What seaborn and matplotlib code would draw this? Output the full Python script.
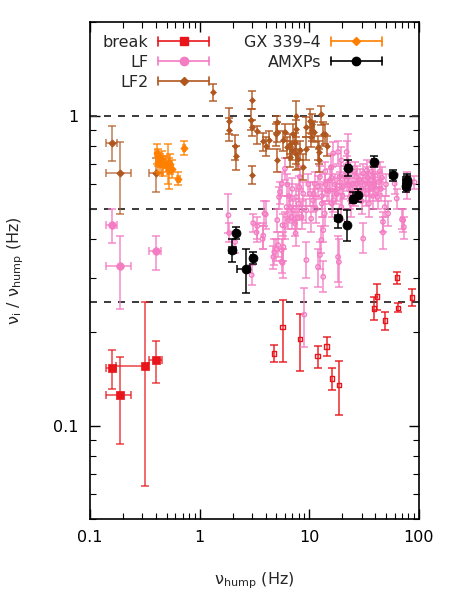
import numpy as np
import matplotlib
matplotlib.use("Agg")
import matplotlib.pyplot as plt
import seaborn as sns
from matplotlib.lines import Line2D
from matplotlib.legend_handler import HandlerBase
from matplotlib.ticker import LogLocator, FixedLocator, FixedFormatter, NullFormatter

# ---------------- data ----------------
# break: low-frequency (filled squares, with x errors)
brk_big_x = [0.158, 0.188, 0.317, 0.397]
brk_big_y = [0.153, 0.126, 0.156, 0.163]
brk_big_ylo = [0.131, 0.087, 0.064, 0.137]
brk_big_yhi = [0.175, 0.166, 0.25, 0.187]
brk_big_xlo = [0.139, 0.139, 0.174, 0.347]
brk_big_xhi = [0.172, 0.236, 0.34, 0.453]
# break: high-frequency (open squares)
brk_x = [4.79, 5.70, 8.26, 11.9, 14.4, 16.2, 18.6, 38.8, 41.6, 49.2, 63.3, 64.6, 86.1]
brk_y = [0.171, 0.208, 0.190, 0.168, 0.180, 0.142, 0.135, 0.239, 0.261, 0.218, 0.300, 0.240, 0.259]
brk_ylo = [0.160, 0.160, 0.150, 0.153, 0.168, 0.130, 0.108, 0.219, 0.236, 0.204, 0.286, 0.232, 0.243]
brk_yhi = [0.182, 0.254, 0.229, 0.181, 0.193, 0.154, 0.162, 0.259, 0.286, 0.232, 0.313, 0.249, 0.275]

# LF: low-frequency (filled circles, with x errors)
lf_big_x = [0.158, 0.188, 0.397]
lf_big_y = [0.443, 0.327, 0.365]
lf_big_ylo = [0.387, 0.238, 0.318]
lf_big_yhi = [0.50, 0.41, 0.41]
lf_big_xlo = [0.139, 0.139, 0.347]
lf_big_xhi = [0.175, 0.236, 0.44]
# LF: cloud (open circles)
lf_x = [1.83, 1.86, 2.10, 2.98, 3.08, 3.35, 3.80, 4.00, 3.30, 4.80, 4.70, 5.20, 5.60, 5.60,
        5.30, 5.40, 5.10, 5.70, 6.20, 6.40, 3.90, 3.75, 5.00, 5.80, 6.00, 5.60, 6.00, 6.70,
        6.90, 7.10, 7.40, 7.50, 7.60, 8.10, 8.20, 8.50, 8.50, 9.40, 10.4, 10.8, 11.2, 12.0,
        12.5, 12.9, 13.4, 13.8, 12.5, 14.4, 15.4, 16.6, 18.3, 18.9, 19.6, 20.3, 21.9, 22.2,
        23.5, 25.1, 27.0, 28.8, 31.0, 33.4, 35.4, 38.0, 41.0, 42.0, 47.0, 48.7, 52.3, 60.0,
        62.7, 71.8, 72.8, 77.1, 77.1, 91.0, 9.40, 10.1, 17.7, 19.6, 15.8, 22.6, 13.4, 9.00,
        18.6, 5.70, 18.3, 70.0, 31.0, 47.0,
        11.0, 12.0, 13.0, 14.0, 15.0, 16.0, 17.0, 18.0, 19.0, 20.0, 21.0, 23.0, 24.0, 26.0,
        27.0, 29.0, 30.0, 32.0, 33.0, 34.0, 36.0, 37.0, 39.0, 40.0, 43.0, 45.0, 44.0, 38.0,
        30.0, 26.0, 16.0, 14.0, 11.5, 24.0, 35.0, 50.0, 46.0, 13.0,
        6.5, 7.0, 8.0, 8.8, 9.8, 7.8, 6.3, 16.5, 21.9]
lf_y = [0.477, 0.418, 0.391, 0.306, 0.450, 0.440, 0.410, 0.480, 0.420, 0.363, 0.350, 0.382, 0.368, 0.338,
        0.546, 0.567, 0.460, 0.443, 0.507, 0.460, 0.483, 0.400, 0.370, 0.377, 0.443, 0.603, 0.674, 0.507,
        0.471, 0.495, 0.449, 0.417, 0.546, 0.588, 0.634, 0.471, 0.495, 0.342, 0.465, 0.533, 0.603, 0.325,
        0.355, 0.397, 0.427, 0.483, 0.634, 0.574, 0.618, 0.533, 0.350, 0.634, 0.507, 0.588, 0.618, 0.682,
        0.546, 0.603, 0.634, 0.574, 0.650, 0.665, 0.603, 0.634, 0.574, 0.546, 0.420, 0.507, 0.483, 0.603,
        0.540, 0.460, 0.437, 0.574, 0.618, 0.610, 0.495, 0.560, 0.560, 0.717, 0.682, 0.700, 0.302, 0.228,
        0.337, 0.335, 0.763, 0.462, 0.401, 0.454,
        0.56, 0.59, 0.55, 0.60, 0.57, 0.63, 0.60, 0.58, 0.61, 0.55, 0.64, 0.60, 0.58, 0.56,
        0.60, 0.62, 0.58, 0.60, 0.56, 0.63, 0.58, 0.66, 0.60, 0.64, 0.61, 0.58, 0.66, 0.55,
        0.53, 0.66, 0.52, 0.66, 0.50, 0.52, 0.52, 0.60, 0.63, 0.52,
        0.55, 0.58, 0.52, 0.56, 0.60, 0.47, 0.60, 0.755, 0.763]
lf_ylo = [0.417, 0.39, 0.36, 0.285, 0.42, 0.40, 0.37, 0.43, 0.39, 0.33, 0.32, 0.35, 0.34, 0.31,
          0.50, 0.52, 0.42, 0.41, 0.47, 0.43, 0.44, 0.37, 0.34, 0.34, 0.40, 0.55, 0.62, 0.46,
          0.43, 0.45, 0.41, 0.38, 0.50, 0.54, 0.58, 0.43, 0.46, 0.30, 0.42, 0.49, 0.55, 0.28,
          0.32, 0.36, 0.39, 0.44, 0.58, 0.53, 0.57, 0.49, 0.29, 0.58, 0.46, 0.54, 0.57, 0.63,
          0.50, 0.55, 0.58, 0.53, 0.60, 0.61, 0.55, 0.58, 0.53, 0.50, 0.37, 0.47, 0.44, 0.56,
          0.50, 0.42, 0.40, 0.54, 0.58, 0.58, 0.45, 0.51, 0.52, 0.64, 0.62, 0.60, 0.27, 0.179,
          0.28, 0.30, 0.70, 0.43, 0.36, 0.42,
          0.51, 0.54, 0.50, 0.55, 0.52, 0.58, 0.55, 0.53, 0.56, 0.50, 0.59, 0.55, 0.53, 0.51,
          0.55, 0.57, 0.53, 0.55, 0.51, 0.58, 0.53, 0.61, 0.55, 0.59, 0.56, 0.53, 0.61, 0.50,
          0.48, 0.61, 0.47, 0.61, 0.45, 0.47, 0.47, 0.55, 0.58, 0.47,
          0.50, 0.53, 0.47, 0.51, 0.55, 0.43, 0.55, 0.69, 0.70]
lf_yhi = [0.56, 0.45, 0.42, 0.33, 0.48, 0.47, 0.45, 0.53, 0.45, 0.40, 0.38, 0.42, 0.40, 0.37,
          0.59, 0.61, 0.50, 0.48, 0.55, 0.50, 0.53, 0.44, 0.40, 0.42, 0.49, 0.66, 0.73, 0.55,
          0.51, 0.54, 0.49, 0.46, 0.60, 0.64, 0.69, 0.51, 0.53, 0.39, 0.51, 0.58, 0.66, 0.37,
          0.39, 0.44, 0.47, 0.53, 0.69, 0.62, 0.67, 0.58, 0.41, 0.69, 0.56, 0.64, 0.67, 0.74,
          0.60, 0.66, 0.69, 0.62, 0.70, 0.72, 0.66, 0.69, 0.62, 0.59, 0.47, 0.55, 0.53, 0.65,
          0.58, 0.50, 0.47, 0.61, 0.66, 0.64, 0.54, 0.61, 0.60, 0.79, 0.75, 0.873, 0.34, 0.277,
          0.40, 0.37, 0.83, 0.50, 0.45, 0.49,
          0.61, 0.64, 0.60, 0.65, 0.62, 0.68, 0.65, 0.63, 0.66, 0.60, 0.69, 0.65, 0.63, 0.61,
          0.65, 0.67, 0.63, 0.65, 0.61, 0.68, 0.63, 0.71, 0.65, 0.69, 0.66, 0.63, 0.71, 0.60,
          0.58, 0.71, 0.57, 0.71, 0.55, 0.57, 0.57, 0.65, 0.68, 0.57,
          0.60, 0.63, 0.57, 0.61, 0.65, 0.51, 0.65, 0.82, 0.83]

# LF2 (brown diamonds)
lf2_big_x = [0.158, 0.188, 0.397]
lf2_big_y = [0.817, 0.651, 0.651]
lf2_big_ylo = [0.713, 0.48, 0.565]
lf2_big_yhi = [0.922, 0.82, 0.73]
lf2_big_xlo = [0.139, 0.139, 0.347]
lf2_big_xhi = [0.175, 0.236, 0.45]
lf2_x = [1.33, 1.85, 1.87, 2.10, 2.15, 2.98, 2.93, 2.98, 2.98, 3.35, 3.80, 4.02, 4.25, 5.04,
         5.04, 5.10, 4.95, 5.99, 5.77, 6.20, 6.68, 6.90, 7.10, 7.40, 7.50, 7.60, 6.70, 8.20,
         7.95, 10.1, 10.3, 11.0, 12.3, 12.9, 13.4, 8.80, 9.30, 13.8, 12.0, 12.3, 10.5, 10.5,
         9.30, 7.60, 14.5]
lf2_y = [1.19, 0.963, 0.90, 0.80, 0.738, 1.125, 0.969, 0.917, 0.645, 0.889, 0.825, 0.795, 0.835, 0.952,
         0.884, 0.717, 0.873, 0.884, 0.831, 0.79, 0.811, 0.772, 0.873, 0.821, 0.753, 0.906, 0.735, 0.772,
         0.726, 0.963, 0.852, 0.884, 0.763, 1.013, 0.873, 0.682, 0.917, 0.873, 0.79, 0.717, 0.94, 0.895,
         0.782, 1.0, 0.80]
lf2_ylo = [1.117, 0.87, 0.825, 0.717, 0.666, 1.05, 0.90, 0.86, 0.60, 0.811, 0.77, 0.74, 0.78, 0.88,
           0.82, 0.66, 0.80, 0.83, 0.77, 0.73, 0.75, 0.72, 0.81, 0.76, 0.70, 0.85, 0.68, 0.72,
           0.67, 0.88, 0.79, 0.82, 0.70, 0.93, 0.80, 0.62, 0.85, 0.81, 0.72, 0.66, 0.87, 0.83,
           0.72, 0.666, 0.74]
lf2_yhi = [1.26, 1.055, 0.98, 0.867, 0.80, 1.197, 1.05, 0.97, 0.686, 0.922, 0.88, 0.85, 0.89, 1.0,
           0.95, 0.78, 0.94, 0.94, 0.89, 0.85, 0.87, 0.83, 0.94, 0.88, 0.81, 0.97, 0.79, 0.83,
           0.78, 1.05, 0.92, 0.95, 0.83, 1.077, 0.95, 0.75, 0.99, 0.94, 0.86, 0.78, 1.01, 0.96,
           0.85, 1.117, 0.86]

# GX 339-4 (orange diamonds)
gx_x = [0.405, 0.414, 0.420, 0.434, 0.466, 0.517, 0.535, 0.528, 0.556, 0.640, 0.720, 0.450, 0.490]
gx_y = [0.756, 0.735, 0.708, 0.699, 0.691, 0.682, 0.699, 0.669, 0.674, 0.626, 0.785, 0.726, 0.700]
gx_ylo = [0.70, 0.69, 0.66, 0.65, 0.64, 0.603, 0.65, 0.58, 0.63, 0.595, 0.745, 0.68, 0.66]
gx_yhi = [0.81, 0.78, 0.76, 0.75, 0.74, 0.81, 0.75, 0.73, 0.72, 0.66, 0.83, 0.77, 0.74]
gx_xlo = [0.392, 0.401, 0.407, 0.420, 0.452, 0.501, 0.519, 0.512, 0.539, 0.621, 0.698, 0.436, 0.475]
gx_xhi = [0.418, 0.427, 0.433, 0.448, 0.480, 0.533, 0.551, 0.544, 0.573, 0.659, 0.742, 0.464, 0.505]

# AMXPs (black circles)
am_x = [2.14, 1.99, 2.62, 3.04, 22.6, 39.1, 57.4, 77.1, 78.0, 76.0, 25.1, 27.9, 18.1, 22.1]
am_y = [0.418, 0.368, 0.319, 0.348, 0.679, 0.708, 0.645, 0.621, 0.606, 0.591, 0.540, 0.553, 0.469, 0.443]
am_ylo = [0.40, 0.337, 0.267, 0.332, 0.637, 0.682, 0.615, 0.59, 0.575, 0.565, 0.522, 0.525, 0.433, 0.394]
am_yhi = [0.436, 0.40, 0.37, 0.363, 0.72, 0.738, 0.669, 0.65, 0.64, 0.62, 0.565, 0.581, 0.498, 0.495]
am_xlo = [2.08, 1.85, 2.19, 2.96, 21.8, 37.5, 54.0, 72.0, 73.0, 72.0, 24.0, 26.8, 17.3, 21.2]
am_xhi = [2.20, 2.14, 2.87, 3.12, 23.4, 40.7, 60.8, 82.0, 83.0, 80.0, 26.2, 29.0, 18.9, 23.0]

ref_lines = [1.0, 0.5, 0.25]
x_ticks = [0.1, 1, 10, 100]
x_ticklabels = ["0.1", "1", "10", "100"]
y_ticks = [0.1, 1]
y_ticklabels = ["0.1", "1"]

labels = ["break", "LF", "LF2", "GX 339–4", "AMXPs"]
c_break = "#e8161c"
c_lf = "#f47cc3"
c_lf2 = "#b0561f"
c_gx = "#ff8000"
c_am = "#000000"

# ---------------- style ----------------
sns.set_theme(style="ticks")
plt.rcParams['font.family'] = ['DejaVu Sans']
plt.rcParams['mathtext.default'] = 'regular'
plt.rcParams['font.size'] = 11.5

fig = plt.figure(figsize=(4.5, 6.0), dpi=100)
ax = fig.add_axes([0.2, 0.135, 0.731, 0.828])
ax.set_xscale('log')
ax.set_yscale('log')
ax.set_xlim(0.1, 100)
ax.set_ylim(0.05, 2.0)


def arr(v):
    return np.asarray(v, dtype=float)


def group(x, y, ylo, yhi, color, marker, s, filled, xlo=None, xhi=None,
          ealpha=0.85, lw=1.2, z=2):
    x, y, ylo, yhi = arr(x), arr(y), arr(ylo), arr(yhi)
    yerr = [y - ylo, yhi - y]
    xerr = None
    if xlo is not None:
        xerr = [x - arr(xlo), arr(xhi) - x]
    ax.errorbar(x, y, yerr=yerr, xerr=xerr, fmt='none', ecolor=color,
                elinewidth=lw, capsize=3, capthick=lw, alpha=ealpha, zorder=z)
    if filled:
        sns.scatterplot(x=x, y=y, ax=ax, marker=marker, s=s, color=color,
                        edgecolor=color, linewidth=0.5, legend=False, zorder=z + 0.5)
    else:
        sns.scatterplot(x=x, y=y, ax=ax, marker=marker, s=s, facecolor='none',
                        edgecolor=color, linewidth=1.0, legend=False, zorder=z + 0.5)


for yv in ref_lines:
    ax.axhline(yv, color='#3a3a3a', lw=1.4, dashes=(3.6, 3.6), zorder=1)

group(brk_x, brk_y, brk_ylo, brk_yhi, c_break, 's', 10, False, z=2)
group(brk_big_x, brk_big_y, brk_big_ylo, brk_big_yhi, c_break, 's', 30, True,
      brk_big_xlo, brk_big_xhi, ealpha=0.75, z=2)
group(lf_x, lf_y, lf_ylo, lf_yhi, c_lf, 'o', 10, False, ealpha=0.8, z=3)
group(lf_big_x, lf_big_y, lf_big_ylo, lf_big_yhi, c_lf, 'o', 30, True,
      lf_big_xlo, lf_big_xhi, ealpha=0.8, z=3)
group(lf2_x, lf2_y, lf2_ylo, lf2_yhi, c_lf2, 'D', 9, True, ealpha=0.85, z=4)
group(lf2_big_x, lf2_big_y, lf2_big_ylo, lf2_big_yhi, c_lf2, 'D', 14, True,
      lf2_big_xlo, lf2_big_xhi, ealpha=0.7, z=4)
group(gx_x, gx_y, gx_ylo, gx_yhi, c_gx, 'D', 14, True, gx_xlo, gx_xhi, ealpha=0.8, z=5)
group(am_x, am_y, am_ylo, am_yhi, c_am, 'o', 42, True, am_xlo, am_xhi, ealpha=0.9, z=6)

# ---------------- axes ----------------
ax.xaxis.set_major_locator(FixedLocator(x_ticks))
ax.xaxis.set_major_formatter(FixedFormatter(x_ticklabels))
ax.yaxis.set_major_locator(FixedLocator(y_ticks))
ax.yaxis.set_major_formatter(FixedFormatter(y_ticklabels))
ax.xaxis.set_minor_locator(LogLocator(base=10, subs=np.arange(2, 10), numticks=20))
ax.yaxis.set_minor_locator(LogLocator(base=10, subs=np.arange(2, 10), numticks=20))
ax.xaxis.set_minor_formatter(NullFormatter())
ax.yaxis.set_minor_formatter(NullFormatter())
ax.tick_params(which='both', direction='in', top=True, right=True, colors='black',
               labelsize=11.5)
ax.tick_params(which='major', length=7, width=1.0, pad=8)
ax.tick_params(which='minor', length=4, width=0.8)
for sp in ax.spines.values():
    sp.set_linewidth(1.2)
    sp.set_color('black')
ax.grid(False)
ax.set_facecolor('white')

ax.set_xlabel("ν$_{hump}$ (Hz)", fontsize=11.5, labelpad=18)
ax.set_ylabel("ν$_{i}$ / ν$_{hump}$ (Hz)", fontsize=11.5, labelpad=20)


# ---------------- legend ----------------
class HandlerCapLine(HandlerBase):
    def create_artists(self, legend, orig_handle, xdescent, ydescent, width,
                       height, fontsize, trans):
        c = orig_handle.get_color()
        y = height / 2 - ydescent
        x0, x1 = -xdescent, width - xdescent
        cap = 3.0
        arts = [Line2D([x0, x1], [y, y], color=c, lw=1.2),
                Line2D([x0, x0], [y - cap, y + cap], color=c, lw=1.2),
                Line2D([x1, x1], [y - cap, y + cap], color=c, lw=1.2),
                Line2D([(x0 + x1) / 2], [y], marker=orig_handle.get_marker(),
                       ms=orig_handle.get_markersize(), color=c, mec=c, mfc=c,
                       ls='none')]
        for a in arts:
            a.set_transform(trans)
        return arts


handles = [Line2D([], [], color=c_break, marker='s', ms=5.5),
           Line2D([], [], color=c_lf, marker='o', ms=6),
           Line2D([], [], color=c_lf2, marker='D', ms=4),
           Line2D([], [], color=c_gx, marker='D', ms=4),
           Line2D([], [], color=c_am, marker='o', ms=6)]
ax.legend(handles, labels, handler_map={Line2D: HandlerCapLine()}, ncol=2,
          markerfirst=False, frameon=False, loc='upper left', fontsize=11.5,
          handlelength=3.2, handletextpad=0.6, columnspacing=2.2,
          labelspacing=0.3, borderaxespad=0.4)

fig.savefig("out.png", dpi=100, facecolor='white')
